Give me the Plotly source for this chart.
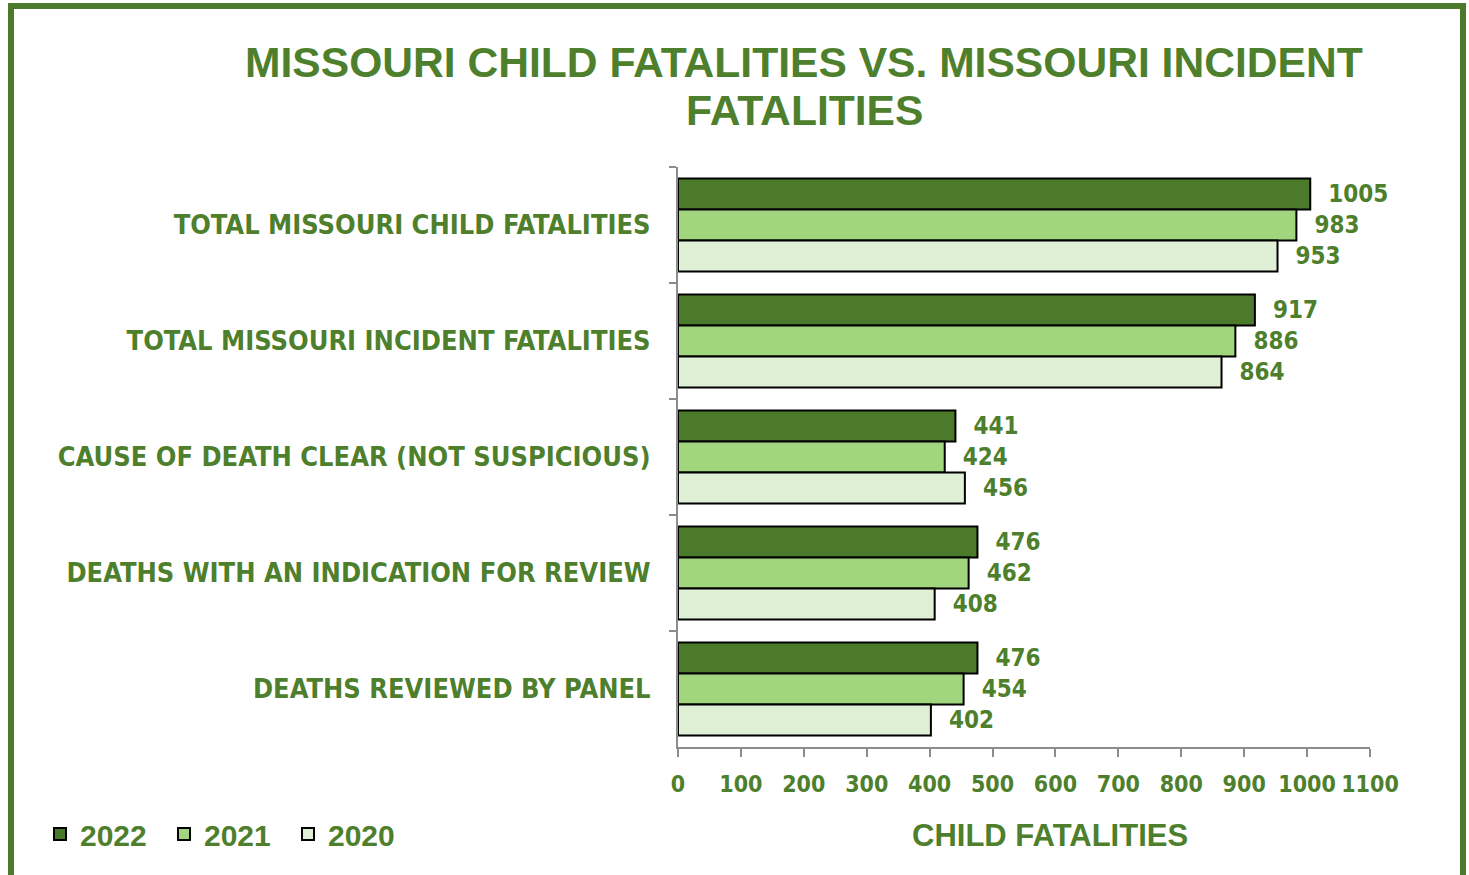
import plotly.graph_objects as go

categories = [
    "TOTAL MISSOURI CHILD FATALITIES",
    "TOTAL MISSOURI INCIDENT FATALITIES",
    "CAUSE OF DEATH CLEAR (NOT SUSPICIOUS)",
    "DEATHS WITH AN INDICATION FOR REVIEW",
    "DEATHS REVIEWED BY PANEL",
]
years = ["2022", "2021", "2020"]
values_2022 = [1005, 917, 441, 476, 476]
values_2021 = [983, 886, 424, 462, 454]
values_2020 = [953, 864, 456, 408, 402]
x_ticks = [0, 100, 200, 300, 400, 500, 600, 700, 800, 900, 1000, 1100]

colors = ["#4B7B2A", "#A1D57E", "#DFF0D6"]
TEXT = "#4E7F2C"
NARROW = "DejaVu Sans Condensed, Liberation Sans Narrow, sans-serif"
WIDE = "Liberation Sans, Arial, sans-serif"

W, H = 1469, 875
L, R, T, B = 678, 1370, 167, 747


def px(x):
    return (x - L) / (R - L)


def py(y):
    return (B - y) / (B - T)


fig = go.Figure()
for name, vals, col in zip(years, [values_2022, values_2021, values_2020], colors):
    fig.add_trace(go.Bar(
        y=categories, x=vals, name=name, orientation="h",
        marker=dict(color=col, line=dict(color="#000000", width=2)),
        text=vals, texttemplate="\u00a0\u00a0%{x}", textposition="outside",
        constraintext="none", cliponaxis=False,
        textfont=dict(family=NARROW, size=24, color=TEXT, weight="bold"),
    ))

fig.update_layout(
    width=W, height=H,
    margin=dict(l=L, r=W - R, t=T, b=H - B, autoexpand=False),
    paper_bgcolor="white", plot_bgcolor="white",
    barmode="group", bargap=0.2, bargroupgap=0,
    showlegend=True,
    legend=dict(
        orientation="h", x=px(40), y=py(808), xanchor="left", yanchor="top",
        font=dict(family=WIDE, size=30, color=TEXT, weight="bold"),
        itemwidth=30, tracegroupgap=0, traceorder="normal",
        entrywidth=79, entrywidthmode="pixels",
    ),
    xaxis=dict(
        range=[0, 1100], tickvals=x_ticks, ticktext=[str(v) for v in x_ticks],
        showgrid=False, zeroline=False, showline=True, linecolor="#8C8C8C", linewidth=2,
        ticks="outside", ticklen=8, tickwidth=2, tickcolor="#8C8C8C",
        tickangle=0, ticklabelstandoff=7,
        tickfont=dict(family=NARROW, size=23, color=TEXT, weight="bold"),
        automargin=False,
    ),
    yaxis=dict(
        categoryorder="array", categoryarray=categories, autorange="reversed",
        showgrid=False, zeroline=False, showline=True, linecolor="#8C8C8C", linewidth=2,
        ticks="outside", tickson="boundaries", ticklen=7, tickwidth=2, tickcolor="#8C8C8C",
        ticklabelstandoff=20,
        tickfont=dict(family=NARROW, size=27, color=TEXT, weight="bold"),
        automargin=False,
    ),
    shapes=[dict(
        type="rect", xref="paper", yref="paper",
        x0=px(11), x1=px(1463), y0=py(900), y1=py(6),
        line=dict(color="#4B7B2A", width=6), fillcolor="rgba(0,0,0,0)", layer="below",
    )],
    annotations=[
        dict(text="MISSOURI CHILD FATALITIES VS. MISSOURI INCIDENT", xref="paper", yref="paper",
             x=px(804), y=py(62), xanchor="center", yanchor="middle", showarrow=False,
             font=dict(family=WIDE, size=42.6, color=TEXT, weight="bold")),
        dict(text="FATALITIES", xref="paper", yref="paper",
             x=px(804), y=py(110), xanchor="center", yanchor="middle", showarrow=False,
             font=dict(family=WIDE, size=42.6, color=TEXT, weight="bold")),
        dict(text="CHILD FATALITIES", xref="paper", yref="paper",
             x=px(1050), y=py(835), xanchor="center", yanchor="middle", showarrow=False,
             font=dict(family=WIDE, size=31, color=TEXT, weight="bold")),
    ],
)

fig.write_html(
    "out.html",
    config={"displayModeBar": False},
    post_script="document.body.style.margin='0';document.body.style.overflow='hidden';",
)
